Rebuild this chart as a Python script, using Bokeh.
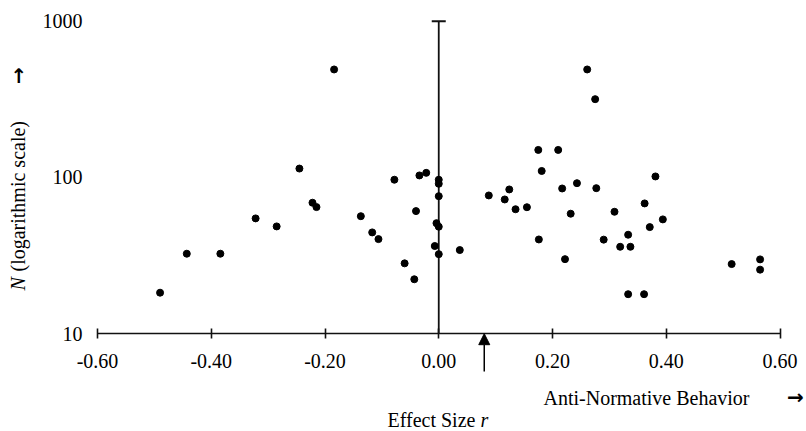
import math
from bokeh.plotting import figure
from bokeh.models import (ColumnDataSource, Range1d, LogAxis, LinearAxis, FixedTicker,
                          CustomJSTickFormatter, Label, Arrow, NormalHead, LogScale)
from bokeh.embed import file_html
from bokeh.resources import INLINE

# ---- data (effect size r, sample size N) ----
effect_r = [-0.490, -0.443, -0.384, -0.322, -0.285, -0.245, -0.222, -0.215, -0.184,
            -0.137, -0.117, -0.106, -0.078, -0.060, -0.043, -0.040, -0.034, -0.022,
            0.000, 0.000, 0.000, -0.004, 0.000, -0.007, 0.000, 0.037,
            0.088, 0.124, 0.116, 0.135, 0.155, 0.261, 0.275, 0.175, 0.210, 0.181,
            0.217, 0.243, 0.277, 0.381, 0.232, 0.309, 0.362, 0.394, 0.371, 0.333,
            0.319, 0.337, 0.290, 0.176, 0.222, 0.515, 0.565, 0.565, 0.333, 0.361]
sample_n = [18.3, 32.5, 32.5, 54.7, 48.6, 114, 68.9, 64.6, 491,
            56.5, 44.5, 40.3, 96.7, 28.2, 22.3, 60.9, 103, 107,
            96.7, 91.1, 75.9, 51.0, 48.4, 36.4, 32.3, 34.3,
            76.7, 83.8, 72.3, 62.6, 64.5, 491, 317, 150, 150, 110,
            85.0, 91.9, 85.4, 101.5, 58.6, 60.3, 68.2, 53.9, 48.1, 43.0,
            36.0, 36.0, 40.0, 40.1, 30.0, 27.9, 29.9, 25.7, 17.9, 17.9]
x_ticks = [-0.6, -0.4, -0.2, 0.0, 0.2, 0.4, 0.6]
y_ticks = [10, 100, 1000]
mean_r = 0.08

FONT = "Liberation Serif"
FS = "20px"

W, H = 806, 431
# layout: pixel position of r=0 / scale, and of N=10 / decade height
X_ZERO_PX, X_PX_PER_UNIT = 438.25, 568.75
Y_TEN_PX, Y_PX_PER_DECADE = 333.2, 156.25

def dx(px):
    return (px - X_ZERO_PX) / X_PX_PER_UNIT
def dy(py):
    return 10 ** (1 + (Y_TEN_PX - py) / Y_PX_PER_DECADE)

p = figure(width=W, height=H, output_backend="svg", toolbar_location=None,
           x_range=Range1d(dx(0), dx(W)), y_range=Range1d(dy(H), dy(0)),
           x_axis_type=None, y_axis_type=None, y_axis_location=None,
           min_border_left=0, min_border_right=0, min_border_top=0, min_border_bottom=0)
p.y_scale = LogScale()
p.outline_line_color = None
p.xgrid.visible = False
p.ygrid.visible = False
p.background_fill_color = "white"
p.border_fill_color = "white"

# bottom axis at N = 10
xa = LinearAxis(ticker=FixedTicker(ticks=x_ticks), fixed_location=y_ticks[0],
                bounds=(x_ticks[0], x_ticks[-1]),
                formatter=CustomJSTickFormatter(code="return tick.toFixed(2);"))
xa.axis_line_color = "#111111"
xa.axis_line_width = 1.6
xa.major_tick_line_color = "#111111"
xa.major_tick_line_width = 1.6
xa.major_tick_in = 5
xa.major_tick_out = 5
xa.minor_tick_line_color = None
xa.major_label_standoff = 15
xa.major_label_text_font = FONT
xa.major_label_text_font_size = FS
xa.major_label_text_color = "black"
p.add_layout(xa, "below")

# left axis labels at r = -0.60
ya = LogAxis(ticker=FixedTicker(ticks=y_ticks), fixed_location=x_ticks[0],
             bounds=(y_ticks[0], y_ticks[-1]),
             formatter=CustomJSTickFormatter(code="return tick.toFixed(0);"))
ya.axis_line_color = None
ya.major_tick_line_color = None
ya.minor_tick_line_color = None
ya.major_tick_in = 0
ya.major_tick_out = 0
ya.major_label_standoff = 15
ya.major_label_text_font = FONT
ya.major_label_text_font_size = FS
ya.major_label_text_color = "black"
p.add_layout(ya, "left")

# vertical axis line at r = 0 with cap at top
p.segment(x0=[0.0], y0=[y_ticks[0]], x1=[0.0], y1=[y_ticks[-1]], line_color="#111111", line_width=1.8)
p.scatter(x=[0.0], y=[y_ticks[-1]], marker="dash", size=14, line_color="#111111", line_width=2)

# points
src = ColumnDataSource(dict(r=effect_r, n=sample_n))
p.scatter("r", "n", source=src, size=7, fill_color="black", line_color="black")

# mean arrow
p.add_layout(Arrow(end=NormalHead(size=11, fill_color="black", line_color="black"),
                   x_start=mean_r, y_start=dy(371), x_end=mean_r, y_end=y_ticks[0],
                   line_color="black", line_width=1.5))

def lab(text, px, py, align="center", angle=0.0, style="normal", baseline="middle",
        font=FONT, size=FS):
    p.add_layout(Label(x=dx(px), y=dy(py), text=text, text_font=font, text_font_size=size,
                       text_align=align, text_baseline=baseline, angle=angle,
                       text_font_style=style, text_color="black"))

ARROW_FONT = "DejaVu Sans"

# x labels
lab("Anti-Normative Behavior", 646, 397)
lab("\u2192", 795, 396, font=ARROW_FONT, style="bold", size="20px")
lab("Effect Size", 387, 419, align="left")
lab("r", 480, 419, align="left", style="italic")

# y label (rotated)
lab("N", 17, 290, align="left", angle=math.pi / 2, style="italic")
lab("(logarithmic scale)", 17, 271, align="left", angle=math.pi / 2)
lab("\u2192", 17, 75, angle=math.pi / 2, font=ARROW_FONT, style="bold", size="20px")

open("out.html", "w").write(file_html(p, INLINE))
